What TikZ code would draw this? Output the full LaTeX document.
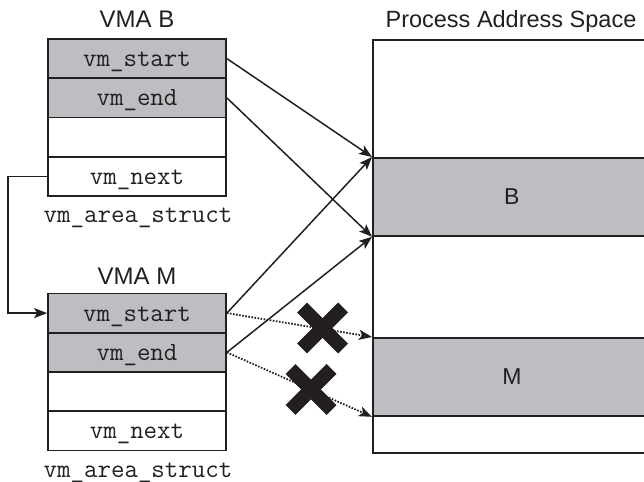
\documentclass[tikz,border=0pt]{standalone}
\usepackage{fontspec}
\setmainfont{Liberation Sans}
\usetikzlibrary{arrows.meta}
\definecolor{ink}{RGB}{35,31,32}
\definecolor{shade}{RGB}{188,190,193}
\begin{document}
\begin{tikzpicture}[x=1pt,y=-1pt,
  field/.style={draw=ink, line width=1.8pt, minimum width=178pt, minimum height=39.25pt, inner sep=0pt,
    text height=16pt, text depth=0pt,
    font=\ttfamily\fontsize{26.2}{30}\selectfont, text=ink},
  filled/.style={field, fill=shade},
  title/.style={font=\fontsize{24}{28}\selectfont, text=ink, inner sep=0pt, anchor=base},
  structlabel/.style={font=\ttfamily\fontsize{26.2}{30}\selectfont, text=ink, inner sep=0pt, anchor=base},
  band/.style={draw=ink, line width=1.8pt, fill=shade, minimum width=278pt, minimum height=78pt,
    inner sep=0pt, anchor=north west, font=\fontsize{23}{27}\selectfont, text=ink},
  ptr/.style={draw=ink, line width=1.5pt, -{Stealth[length=13pt,width=10pt,inset=3pt]}},
  dotptr/.style={ptr, line width=1.8pt, dash pattern=on 1.6pt off 1.5pt},
  cross/.style={draw=ink, line width=14pt}
]
\useasboundingbox (0,0) rectangle (644,481);

% VMA B
\node[title] (tB) at (137,28) {VMA B};
\node[filled] (bvs) at (137,58.6) {vm\_start};
\node[filled] (bve) at (137,97.9) {vm\_end};
\node[field]  (bvx) at (137,137.1) {};
\node[field]  (bvn) at (137,176.4) {vm\_next};
\node[structlabel] (cB) at (138,222) {vm\_area\_struct};

% VMA M
\node[title] (tM) at (137,284) {VMA M};
\node[filled] (mvs) at (137,313.1) {vm\_start};
\node[filled] (mve) at (137,352.4) {vm\_end};
\node[field]  (mvx) at (137,391.6) {};
\node[field]  (mvn) at (137,430.9) {vm\_next};
\node[structlabel] (cM) at (138,477) {vm\_area\_struct};

% Process address space
\node[title, font=\fontsize{23.5}{28}\selectfont] (tP) at (511,28) {Process Address Space};
\node[draw=ink, line width=1.8pt, minimum width=278pt, minimum height=413pt, inner sep=0pt, anchor=north west] (pas) at (372,39) {};
\node[band] (bandB) at (372,157) {B};
\node[band] (bandM) at (372,337) {M};

% connectors
\draw[ptr] (bvs.east) -- (bandB.north west);
\draw[ptr] (bve.east) -- (bandB.south west);
\draw[ptr] (mvs.east) -- (bandB.north west);
\draw[ptr] (mve.east) -- (bandB.south west);
\draw[dotptr] (mvs.east) -- (bandM.north west);
\draw[dotptr] (mve.east) -- (bandM.south west);
\draw[ptr] (bvn.west) -- ++(-39,0) |- (mvs.west);

% crosses
\draw[cross] (302,307.5) -- (343,348.5);
\draw[cross] (302,348.5) -- (343,307.5);
\draw[cross] (290.5,369) -- (331.5,410);
\draw[cross] (290.5,410) -- (331.5,369);
\end{tikzpicture}
\end{document}
